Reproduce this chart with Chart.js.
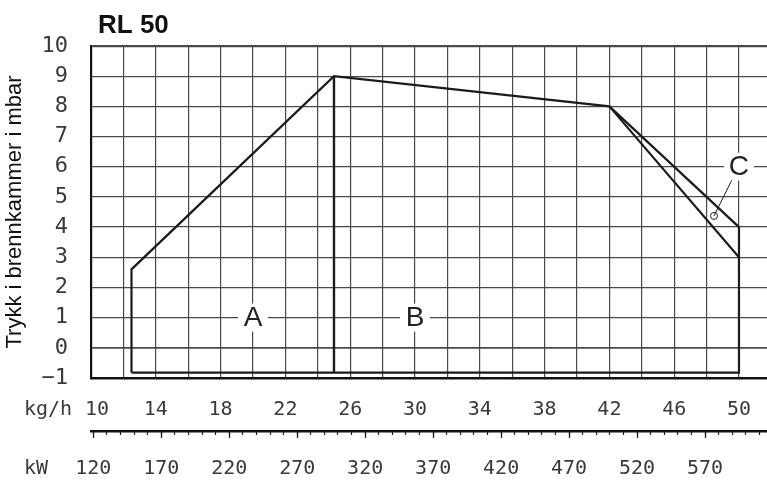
<!DOCTYPE html>
<html>
<head>
<meta charset="utf-8">
<script src="https://cdn.jsdelivr.net/npm/chart.js@4.4.0/dist/chart.umd.min.js"></script>
<style>
  body { margin: 0; background: #fff; }
  canvas { display: block; }
</style>
</head>
<body>
<canvas id="chart" width="767" height="480"></canvas>
<script>
// Working field, x in kg/h, y in mbar
const outlineX = [12.5, 12.5, 25, 42, 50, 50, 12.5];
const outlineY = [-0.82, 2.6, 9, 8, 4, -0.82, -0.82];
const lowerX = [42, 50];
const lowerY = [8, 3];
const splitX = [25, 25];
const splitY = [9, -0.82];
const leaderX = [49.55, 48.46];
const leaderY = [5.55, 4.37];
const markerX = [48.46];
const markerY = [4.37];

const zoneNames = ["A", "B", "C"];
const zoneX = [20, 30, 50];
const zoneY = [1, 1, 6];

const kgTicks = [10, 14, 18, 22, 26, 30, 34, 38, 42, 46, 50];
const kwTicks = [120, 170, 220, 270, 320, 370, 420, 470, 520, 570];

const LINE = "#1b1b1b";
const GRID = "#4a4a4a";
const TEXT = "#3a3a3a";
const MONO = '"DejaVu Sans Mono", monospace';

const toPoints = (xs, ys) => xs.map((x, i) => ({ x: x, y: ys[i] }));

const lineSet = (xs, ys, w) => ({
  data: toPoints(xs, ys),
  showLine: true,
  borderColor: LINE,
  borderWidth: w,
  pointRadius: 0,
  fill: false,
});

// white boxes + letters A, B, C on the grid
const zoneLabels = {
  id: "zoneLabels",
  beforeDatasetsDraw(chart) {
    const { ctx, scales } = chart;
    ctx.save();
    ctx.font = '28px "Liberation Sans Narrow", sans-serif';
    ctx.textAlign = "center";
    ctx.textBaseline = "middle";
    zoneNames.forEach((name, i) => {
      const px = scales.x.getPixelForValue(zoneX[i]);
      const py = scales.y.getPixelForValue(zoneY[i]);
      ctx.fillStyle = "#fff";
      ctx.fillRect(px - 15, py - 14, 30, 28);
      ctx.fillStyle = "#222";
      ctx.fillText(name, px, py + 1);
    });
    ctx.restore();
  },
  afterDraw(chart) {
    const ctx = chart.ctx;
    ctx.save();
    ctx.fillStyle = "#111";
    ctx.font = 'bold 26px "Liberation Sans", Arial, sans-serif';
    ctx.textBaseline = "alphabetic";
    ctx.fillText("RL 50", 98, 33);
    ctx.fillStyle = TEXT;
    ctx.font = "20px " + MONO;
    ctx.textBaseline = "middle";
    ctx.fillText("kg/h", 24, 410);
    ctx.fillText("kW", 24, 469);
    ctx.restore();
  },
};

const ctx = document.getElementById("chart").getContext("2d");
const chart = new Chart(ctx, {
  type: "scatter",
  data: {
    datasets: [
      lineSet(outlineX, outlineY, 2.2),
      lineSet(lowerX, lowerY, 2.2),
      lineSet(splitX, splitY, 2.4),
      lineSet(leaderX, leaderY, 1),
      {
        data: toPoints(markerX, markerY),
        pointRadius: 3.5,
        pointBackgroundColor: "#fff",
        pointBorderColor: "#222",
        pointBorderWidth: 1,
      },
    ],
  },
  options: {
    responsive: false,
    animation: false,
    layout: { autoPadding: false, padding: { top: 46, left: 0, right: 0, bottom: 0 } },
    plugins: { legend: { display: false }, tooltip: { enabled: false } },
    scales: {
      x: {
        type: "linear",
        position: "bottom",
        weight: 0,
        min: 10,
        max: 51.73,
        afterFit: (s) => {
          s.height = 53;
          s.paddingLeft = 0;
          s.paddingRight = 0;
        },
        border: { display: true, color: "#111", width: 2.5 },
        grid: { color: GRID, lineWidth: 1.2, drawTicks: false },
        ticks: {
          stepSize: 2,
          includeBounds: false,
          autoSkip: false,
          maxRotation: 0,
          padding: 20,
          color: TEXT,
          font: { family: MONO, size: 20 },
          callback: (v) => (v === 10 ? " 10" : kgTicks.includes(v) ? String(v) : ""),
        },
      },
      kwMinor: {
        axis: "x",
        type: "linear",
        position: "bottom",
        weight: 1,
        min: 118.3,
        max: 615.6,
        afterFit: (s) => {
          s.height = 0;
          s.paddingLeft = 0;
          s.paddingRight = 0;
        },
        border: { display: false },
        grid: { drawOnChartArea: false, drawTicks: true, tickLength: 4, tickColor: "#222", tickWidth: 1.2 },
        ticks: { display: false, stepSize: 10, includeBounds: false },
      },
      kwMajor: {
        axis: "x",
        type: "linear",
        position: "bottom",
        weight: 2,
        min: 118.3,
        max: 615.6,
        afterBuildTicks: (s) => {
          s.ticks = kwTicks.map((v) => ({ value: v }));
        },
        afterFit: (s) => {
          s.height = 49;
          s.paddingLeft = 0;
          s.paddingRight = 0;
        },
        border: { display: true, color: "#111", width: 2.5 },
        grid: { drawOnChartArea: false, drawTicks: true, tickLength: 7, tickColor: "#222", tickWidth: 1.3 },
        ticks: {
          autoSkip: false,
          maxRotation: 0,
          padding: 19,
          color: TEXT,
          font: { family: MONO, size: 20 },
        },
      },
      y: {
        type: "linear",
        min: -1,
        max: 10,
        afterFit: (s) => {
          s.width = 91;
          s.paddingTop = 0;
          s.paddingBottom = 0;
        },
        border: { display: true, color: "#111", width: 2.2 },
        grid: {
          drawTicks: false,
          color: GRID,
          lineWidth: (c) => (c.tick && c.tick.value === 10 ? 2.2 : c.tick && c.tick.value === 0 ? 1.8 : 1.2),
        },
        ticks: {
          stepSize: 1,
          padding: 23,
          color: TEXT,
          font: { family: MONO, size: 22 },
          callback: (v) => (v < 0 ? "\u2212" + Math.abs(v) : String(v)),
        },
        title: {
          display: true,
          text: "Trykk i brennkammer i mbar",
          color: "#111",
          font: { family: '"Liberation Sans", Arial, sans-serif', size: 22 },
          padding: { top: 2, bottom: 0 },
        },
      },
    },
  },
  plugins: [zoneLabels],
});
</script>
</body>
</html>
